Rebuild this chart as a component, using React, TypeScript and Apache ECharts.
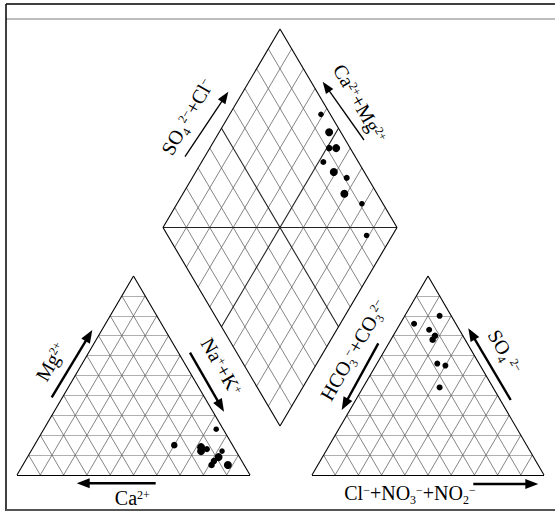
import React, { useEffect, useRef } from "react";
import * as echarts from "echarts";

// ---- Sample data (meq %) ----
// Cation triangle
const cationCa = [3, 25, 14, 15, 12, 6, 9, 12, 14, 7];
const cationMg = [23, 15, 14, 12, 13, 12, 9, 7, 5, 5];
const cationNaK = [74, 60, 72, 73, 75, 82, 82, 81, 81, 88];
const cationDotSize = [5.5, 6.5, 8, 8, 6, 5.5, 8, 6.5, 6.5, 8];

// Anion triangle
const anionHCO3 = [5, 18, 13, 12, 14, 18, 15, 23];
const anionSO4 = [80, 76, 73, 70, 68, 56, 55, 44];
const anionCl = [15, 6, 14, 18, 18, 26, 30, 33];
const anionDotSize = [6, 6, 6, 6.5, 6.5, 6, 6, 6];

// Central diamond
const diamondCaMg = [61, 53, 49, 46, 48, 41, 34, 31, 21, 11];
const diamondSO4Cl = [96, 95, 91, 94, 85, 87, 91, 86, 91, 85];
const diamondDotSize = [5.5, 8, 6.5, 8, 6, 8, 6, 8, 5.5, 5.5];

// Grid subdivisions (%)
const gridSteps = [10, 20, 30, 40, 50, 60, 70, 80, 90];

// ---- Layout of the three fields (chart units = px) ----
const W = 555;
const H = 514;
const CAT = { x0: 17, y0: 475, side: 233, height: 199 };
const AN = { x0: 312, y0: 475, side: 232, height: 199 };
const DIA = { cx: 280, bottom: 426, halfW: 117, halfH: 198.5 };

const FONT = "'Liberation Serif', 'Times New Roman', serif";

// ternary -> cartesian: first arg = apex component, second = right-corner component
const cationXY = (mg: number, nak: number) => [
  CAT.x0 + (CAT.side * (nak + mg / 2)) / 100,
  CAT.y0 - (CAT.height * mg) / 100,
];
const anionXY = (so4: number, cl: number) => [
  AN.x0 + (AN.side * (cl + so4 / 2)) / 100,
  AN.y0 - (AN.height * so4) / 100,
];
const diamondXY = (camg: number, so4cl: number) => [
  DIA.cx + (DIA.halfW * (so4cl - camg)) / 100,
  DIA.bottom - (DIA.halfH * (so4cl + camg)) / 100,
];

const seg = (a: number[], b: number[]) => ({ coords: [a, b] });

function triangleLines(xy: (v: number, h: number) => number[]) {
  const horiz: any[] = [];
  const diag: any[] = [];
  for (const k of gridSteps) {
    horiz.push(seg(xy(k, 0), xy(k, 100 - k)));
    diag.push(seg(xy(0, k), xy(100 - k, k)));
    diag.push(seg(xy(0, 100 - k), xy(100 - k, 0)));
  }
  const outline = [
    seg(xy(0, 0), xy(0, 100)),
    seg(xy(0, 100), xy(100, 0)),
    seg(xy(100, 0), xy(0, 0)),
  ];
  return { horiz, diag, outline };
}

function diamondLines() {
  const fine: any[] = [];
  const bold: any[] = [];
  for (const k of gridSteps) {
    const a = seg(diamondXY(k, 0), diamondXY(k, 100));
    const b = seg(diamondXY(0, k), diamondXY(100, k));
    if (k === 50) bold.push(a, b);
    else fine.push(a, b);
  }
  bold.push(seg(diamondXY(100, 0), diamondXY(0, 100)));
  const outline = [
    seg(diamondXY(0, 0), diamondXY(100, 0)),
    seg(diamondXY(100, 0), diamondXY(100, 100)),
    seg(diamondXY(100, 100), diamondXY(0, 100)),
    seg(diamondXY(0, 100), diamondXY(0, 0)),
  ];
  return { fine, bold, outline };
}

function linesSeries(data: any[], color: string, width: number, z: number) {
  return {
    type: "lines",
    coordinateSystem: "cartesian2d",
    polyline: false,
    silent: true,
    symbol: ["none", "none"],
    lineStyle: { color, width, opacity: 1, curveness: 0 },
    data,
    z,
  };
}

function arrow(x1: number, y1: number, x2: number, y2: number, width: number, headLen: number, headW: number) {
  const len = Math.hypot(x2 - x1, y2 - y1);
  const ux = (x2 - x1) / len;
  const uy = (y2 - y1) / len;
  const bx = x2 - ux * headLen;
  const by = y2 - uy * headLen;
  const px = -uy * (headW / 2);
  const py = ux * (headW / 2);
  return [
    {
      type: "line",
      silent: true,
      shape: { x1, y1, x2: bx + ux, y2: by + uy },
      style: { stroke: "#000", lineWidth: width },
    },
    {
      type: "polygon",
      silent: true,
      shape: { points: [[x2, y2], [bx + px, by + py], [bx - px, by - py]] },
      style: { fill: "#000" },
    },
  ];
}

// rich-text styles: t = main text, p = superscript, b = subscript
const rich = {
  t: { fontSize: 20, fontFamily: FONT, lineHeight: 26, fill: "#000" },
  p: { fontSize: 12, fontFamily: FONT, lineHeight: 14, verticalAlign: "top", padding: [4, 0, 0, 0], fill: "#000" },
  b: { fontSize: 12, fontFamily: FONT, lineHeight: 14, verticalAlign: "bottom", fill: "#000" },
};

function label(text: string, x: number, y: number, deg: number) {
  return {
    type: "text",
    silent: true,
    x,
    y,
    rotation: (deg * Math.PI) / 180,
    style: {
      text,
      rich,
      fontFamily: FONT,
      fontSize: 20,
      fill: "#000",
      align: "center",
      verticalAlign: "middle",
    },
  };
}

export default function App() {
  const ref = useRef<HTMLDivElement>(null);

  useEffect(() => {
    if (!ref.current) return;
    const chart = echarts.init(ref.current, undefined, { renderer: "svg" });

    const cat = triangleLines(cationXY);
    const an = triangleLines(anionXY);
    const dia = diamondLines();

    const cationPts = cationMg.map((mg, i) => cationXY(mg, cationNaK[i]));
    const anionPts = anionSO4.map((s, i) => anionXY(s, anionCl[i]));
    const diamondPts = diamondCaMg.map((c, i) => diamondXY(c, diamondSO4Cl[i]));

    const frame = [
      { type: "line", silent: true, shape: { x1: 6, y1: 4, x2: W, y2: 4 }, style: { stroke: "#000", lineWidth: 1.5 } },
      { type: "line", silent: true, shape: { x1: 6, y1: 19, x2: W, y2: 19 }, style: { stroke: "#bdbdbd", lineWidth: 2 } },
      { type: "line", silent: true, shape: { x1: 6, y1: 4, x2: 6, y2: 511 }, style: { stroke: "#000", lineWidth: 1.5 } },
      { type: "line", silent: true, shape: { x1: 6, y1: 510, x2: W, y2: 510 }, style: { stroke: "#555", lineWidth: 2 } },
    ];

    const arrows = [
      ...arrow(51.7, 397.3, 92.3, 330, 2.4, 13, 10),
      ...arrow(190, 352.7, 224, 411.7, 2.4, 13, 10),
      ...arrow(155.7, 483.3, 76.7, 483.3, 2.4, 13, 10),
      ...arrow(378.3, 343.3, 341.7, 410, 2.4, 13, 10),
      ...arrow(510.7, 400, 468.3, 328.3, 2.4, 13, 10),
      ...arrow(473.3, 484, 538.3, 484, 2.4, 13, 10),
      ...arrow(185, 156.7, 228.3, 91.7, 1.3, 12, 9),
      ...arrow(364, 140, 322.7, 81.7, 1.3, 12, 9),
    ];

    const labels = [
      label("{t|Mg}{p|2+}", 50.7, 361.7, 60),
      label("{t|Na}{p|+}{t|+K}{p|+}", 221.7, 366.7, -60),
      label("{t|Ca}{p|2+}", 132.3, 498.3, 0),
      label("{t|HCO}{b|3}{p|−}{t|+CO}{b|3}{p|2−}", 353.3, 350, 60),
      label("{t|SO}{b|4}{p| 2−}", 505, 351.7, -60),
      label("{t|Cl}{p|−}{t|+NO}{b|3}{p|−}{t|+NO}{b|2}{p|−}", 410, 493.3, 0),
      label("{t|SO}{b|4}{p| 2−}{t|+Cl}{p|−}", 187.3, 116.7, 60),
      label("{t|Ca}{p|2+}{t|+Mg}{p|2+}", 360, 103.3, -60),
    ];

    chart.setOption({
      animation: false,
      backgroundColor: "#fff",
      grid: { left: 0, right: 0, top: 0, bottom: 0, containLabel: false },
      xAxis: { type: "value", min: 0, max: W, show: false },
      yAxis: { type: "value", min: 0, max: H, inverse: true, show: false },
      series: [
        linesSeries([...cat.horiz, ...an.horiz], "#b0b0b0", 1, 1),
        linesSeries([...cat.diag, ...an.diag, ...dia.fine], "#666", 0.8, 2),
        linesSeries(dia.bold, "#222", 1.1, 3),
        linesSeries([...cat.outline, ...an.outline, ...dia.outline], "#000", 1.1, 4),
        {
          type: "scatter",
          name: "Cations",
          data: cationPts,
          symbol: "circle",
          symbolSize: (_v: any, p: any) => cationDotSize[p.dataIndex],
          itemStyle: { color: "#000", opacity: 1 },
          z: 10,
        },
        {
          type: "scatter",
          name: "Anions",
          data: anionPts,
          symbol: "circle",
          symbolSize: (_v: any, p: any) => anionDotSize[p.dataIndex],
          itemStyle: { color: "#000", opacity: 1 },
          z: 10,
        },
        {
          type: "scatter",
          name: "Diamond",
          data: diamondPts,
          symbol: "circle",
          symbolSize: (_v: any, p: any) => diamondDotSize[p.dataIndex],
          itemStyle: { color: "#000", opacity: 1 },
          z: 10,
        },
      ],
      graphic: [...frame, ...arrows, ...labels],
    });

    return () => chart.dispose();
  }, []);

  return (
    <div
      ref={ref}
      style={{ position: "absolute", left: 0, top: 0, width: W, height: H }}
    />
  );
}
